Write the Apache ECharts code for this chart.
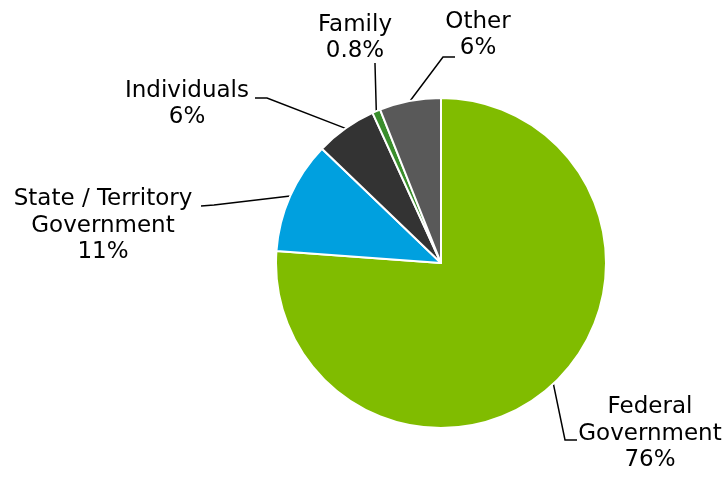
<!DOCTYPE html>
<html>
<head>
<meta charset="utf-8">
<script src="https://cdn.jsdelivr.net/npm/echarts@6/dist/echarts.min.js"></script>
<style>
  html, body { margin: 0; padding: 0; background: #fff; }
  #chart { width: 728px; height: 478px; }
</style>
</head>
<body>
<div id="chart"></div>
<script>
// data
var categories = ['Federal\nGovernment', 'State / Territory\nGovernment', 'Individuals', 'Family', 'Other'];
var shares = [76, 11, 6, 0.8, 6];
var colors = ['#80BC00', '#00A0DF', '#333333', '#3A8E2C', '#595959'];

// where each label sits and how its leader line bends
var labelPos = [
  { x: 650, y: 434, elbow: [565, 440], end: [577, 440] },
  { x: 103, y: 226, elbow: [214, 205], end: [201, 206] },
  { x: 187, y: 104, elbow: [267, 98], end: [255, 98] },
  { x: 355, y: 38, elbow: [375, 64], end: [375, 63] },
  { x: 478, y: 35, elbow: [443, 57], end: [455, 57] }
];

var pieData = categories.map(function (name, i) {
  return { name: name, value: shares[i], itemStyle: { color: colors[i] } };
});

var chart = echarts.init(document.getElementById('chart'));
chart.setOption({
  animation: false,
  series: [
    {
      type: 'pie',
      center: [441, 263],
      radius: 165,
      startAngle: 90,
      clockwise: true,
      avoidLabelOverlap: false,
      silent: true,
      itemStyle: { borderColor: '#fff', borderWidth: 2 },
      label: {
        show: true,
        position: 'outside',
        fontFamily: 'DejaVu Sans',
        fontSize: 23,
        lineHeight: 26.5,
        color: '#000',
        align: 'center',
        formatter: function (p) {
          return p.name + '\n' + p.value + '%';
        }
      },
      labelLine: {
        show: true,
        length: 10,
        length2: 10,
        lineStyle: { color: '#000', width: 1.5 }
      },
      labelLayout: function (params) {
        var p = labelPos[params.dataIndex];
        var start = params.labelLinePoints ? params.labelLinePoints[0] : p.elbow;
        return {
          x: p.x,
          y: p.y,
          align: 'center',
          verticalAlign: 'middle',
          labelLinePoints: [start, p.elbow, p.end]
        };
      },
      data: pieData
    }
  ]
});
</script>
</body>
</html>
